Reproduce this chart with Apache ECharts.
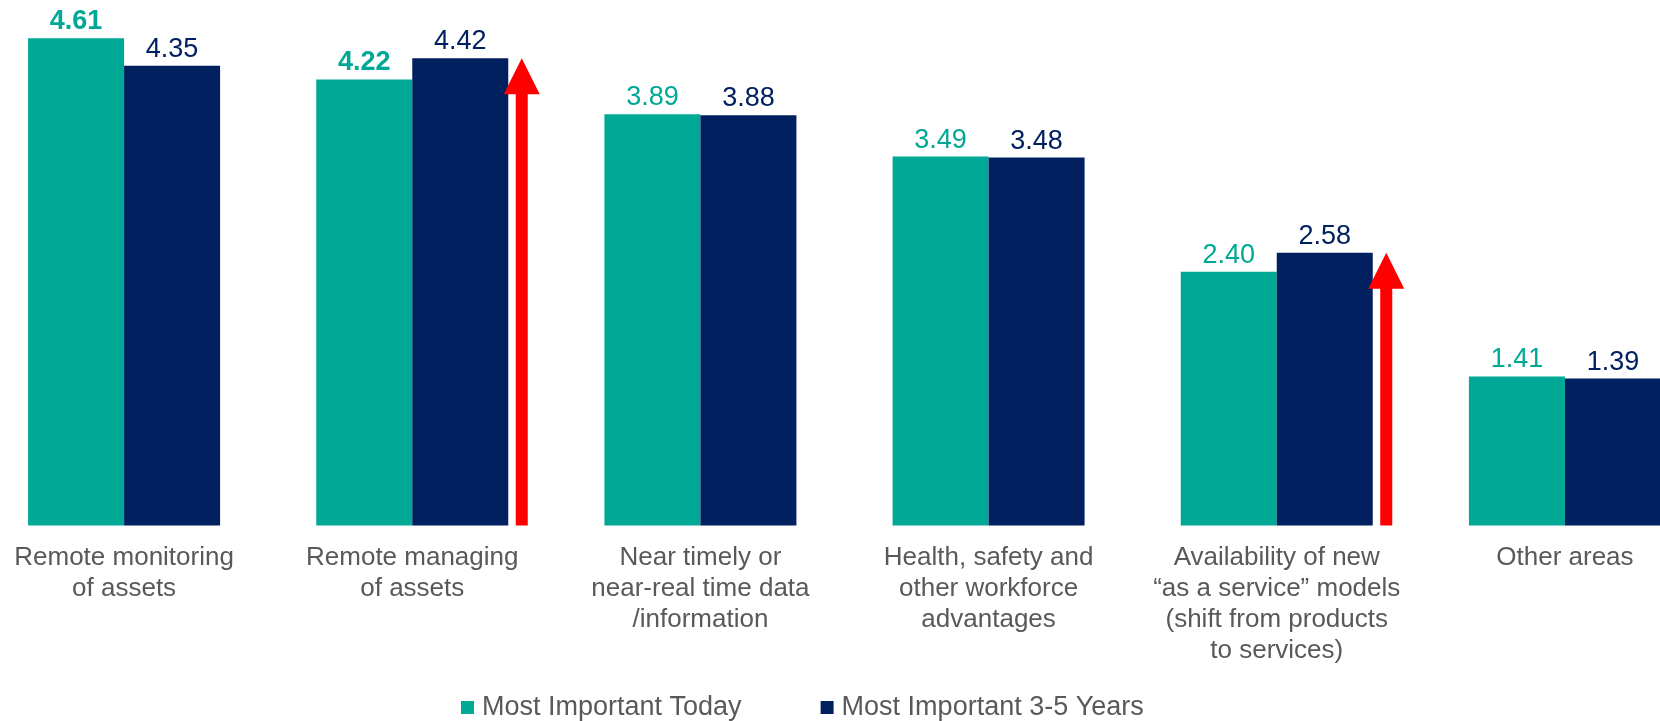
<!DOCTYPE html>
<html>
<head>
<meta charset="utf-8">
<script src="https://cdn.jsdelivr.net/npm/echarts@6/dist/echarts.min.js"></script>
<style>
html,body{margin:0;padding:0;background:#fff;}
#chart{width:1660px;height:721px;}
</style>
</head>
<body>
<div id="chart"></div>
<script>
const categories = [
  "Remote monitoring\nof assets",
  "Remote managing\nof assets",
  "Near timely or\nnear-real time data\n/information",
  "Health, safety and\nother workforce\nadvantages",
  "Availability of new\n\u201cas a service\u201d models\n(shift from products\nto services)",
  "Other areas"
];
const seriesNames = ["Most Important Today", "Most Important 3-5 Years"];
const todayValues = [4.61, 4.22, 3.89, 3.49, 2.40, 1.41];
const futureValues = [4.35, 4.42, 3.88, 3.48, 2.58, 1.39];
const boldTodayLabels = [0, 1];
const arrowCategories = [1, 4];

const TEAL = "#00A896";
const NAVY = "#002060";
const GRAY = "#595959";
const FONT = "'Liberation Sans', Arial, sans-serif";

const chart = echarts.init(document.getElementById('chart'), null, {renderer: 'canvas'});

const todayData = todayValues.map((v, i) => ({
  value: v,
  label: { fontWeight: boldTodayLabels.includes(i) ? 'bold' : 'normal' }
}));

const arrowData = arrowCategories.map(i => [i, futureValues[i]]);

const option = {
  animation: false,
  backgroundColor: '#ffffff',
  grid: {
    left: -20, top: 7.5, width: 1729, height: 518,
    containLabel: false,
    outerBoundsMode: 'none'
  },
  legend: {
    data: seriesNames,
    left: 456,
    top: 689,
    icon: 'rect',
    itemWidth: 13,
    itemHeight: 13,
    itemGap: 79,
    textStyle: { color: GRAY, fontSize: 27, fontFamily: FONT, padding: [0, 0, 0, 3] }
  },
  xAxis: {
    type: 'category',
    data: categories,
    axisLine: { show: false },
    axisTick: { show: false },
    axisLabel: {
      interval: 0,
      margin: 17,
      color: GRAY,
      fontSize: 26,
      lineHeight: 31,
      fontFamily: FONT,
      align: 'center'
    }
  },
  yAxis: {
    type: 'value',
    min: 0,
    max: 4.9,
    show: false,
    splitLine: { show: false }
  },
  series: [
    {
      name: seriesNames[0],
      type: 'bar',
      data: todayData,
      barWidth: 96,
      barGap: '0%',
      itemStyle: { color: TEAL },
      label: {
        show: true,
        position: 'top',
        distance: 3,
        color: TEAL,
        fontSize: 27,
        fontFamily: FONT,
        formatter: p => Number(p.value).toFixed(2)
      }
    },
    {
      name: seriesNames[1],
      type: 'bar',
      data: futureValues,
      barWidth: 96,
      barGap: '0%',
      itemStyle: { color: NAVY },
      label: {
        show: true,
        position: 'top',
        distance: 3,
        color: NAVY,
        fontSize: 27,
        fontFamily: FONT,
        formatter: p => Number(p.value).toFixed(2)
      }
    },
    {
      name: 'arrows',
      type: 'custom',
      data: arrowData,
      silent: true,
      z: 5,
      renderItem: function (params, api) {
        const top = api.coord([api.value(0), api.value(1)]);
        const base = api.coord([api.value(0), 0]);
        const x = top[0] + 96 + 13.5;
        const shaftHalf = 6, headHalf = 18, headH = 36;
        const tipY = top[1];
        const headBase = tipY + headH;
        return {
          type: 'polygon',
          shape: {
            points: [
              [x, tipY],
              [x + headHalf, headBase],
              [x + shaftHalf, headBase],
              [x + shaftHalf, base[1]],
              [x - shaftHalf, base[1]],
              [x - shaftHalf, headBase],
              [x - headHalf, headBase]
            ]
          },
          style: { fill: '#FF0000' }
        };
      }
    }
  ]
};

chart.setOption(option);
</script>
</body>
</html>
